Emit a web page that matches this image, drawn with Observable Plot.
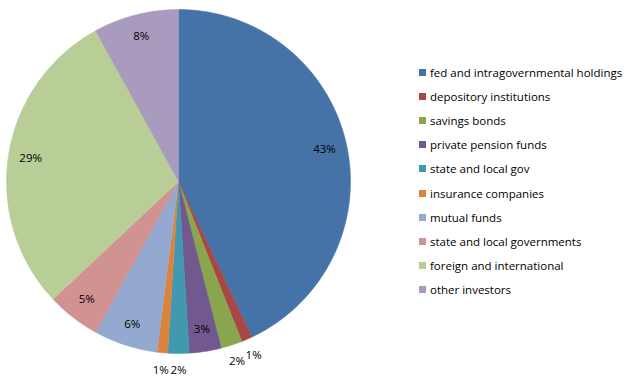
<!DOCTYPE html>
<html>
<head>
<meta charset="utf-8">
<script src="https://cdn.jsdelivr.net/npm/d3@7"></script>
<script src="https://cdn.jsdelivr.net/npm/@observablehq/plot@0.6"></script>
<style>
  html, body { margin: 0; padding: 0; background: #fff; }
  #wrap { position: relative; width: 631px; height: 383px; overflow: hidden; }
  #legend { position: absolute; left: 419px; top: 60px; font-family: "Open Sans", "DejaVu Sans", sans-serif; font-size: 11.5px; color: #000; }
  #legend .item { height: 24.2px; display: flex; align-items: center; white-space: nowrap; }
  #legend .sw { width: 7px; height: 7px; margin-right: 4px; flex: none; }
</style>
</head>
<body>
<div id="wrap"><div id="chart"></div><div id="legend"></div></div>
<script>
const categories = [
  "fed and intragovernmental holdings",
  "depository institutions",
  "savings bonds",
  "private pension funds",
  "state and local gov",
  "insurance companies",
  "mutual funds",
  "state and local governments",
  "foreign and international",
  "other investors"
];
const shares = [43, 1, 2, 3, 2, 1, 6, 5, 29, 8];
const colors = ["#4572A7", "#AA4643", "#89A54E", "#71588F", "#4198AF", "#DB843D", "#93A9CF", "#D19392", "#B9CD96", "#A99BBD"];

const total = d3.sum(shares);
// slices clockwise from 12 o'clock
const pie = d3.pie().sort(null).value(d => d.value)(categories.map((name, i) => ({name, value: shares[i]})));

const polyPts = [];
for (const a of pie) {
  const n = Math.max(2, Math.ceil((a.endAngle - a.startAngle) / (Math.PI / 360)));
  polyPts.push({name: a.data.name, x: 0, y: 0});
  for (let k = 0; k <= n; k++) {
    const t = a.startAngle + (a.endAngle - a.startAngle) * k / n;
    polyPts.push({name: a.data.name, x: Math.sin(t), y: Math.cos(t)});
  }
  polyPts.push({name: a.data.name, x: 0, y: 0});
}

const labels = pie.map(a => {
  const mid = (a.startAngle + a.endAngle) / 2;
  const r = a.data.value <= 2 ? 1.1 : 0.87;
  return {text: Math.round(a.data.value / total * 100) + "%", x: r * Math.sin(mid), y: r * Math.cos(mid)};
});

const chart = Plot.plot({
  width: 631,
  height: 383,
  margin: 0,
  x: {domain: [-1, 1], range: [6, 350], axis: null},
  y: {domain: [-1, 1], range: [353, 9], axis: null},
  color: {domain: categories, range: colors},
  style: {background: "#fff", fontFamily: "'Open Sans', 'DejaVu Sans', sans-serif"},
  marks: [
    Plot.line(polyPts, {x: "x", y: "y", z: "name", fill: "name", stroke: "name", strokeWidth: 0.5, curve: "linear"}),
    Plot.text(labels, {x: "x", y: "y", text: "text", fontSize: 11.5, fill: "#000"})
  ]
});
document.getElementById("chart").append(chart);

const legend = document.getElementById("legend");
categories.forEach((c, i) => {
  const item = document.createElement("div");
  item.className = "item";
  const sw = document.createElement("span");
  sw.className = "sw";
  sw.style.background = colors[i];
  const tx = document.createElement("span");
  tx.textContent = c;
  item.append(sw, tx);
  legend.append(item);
});
</script>
</body>
</html>
